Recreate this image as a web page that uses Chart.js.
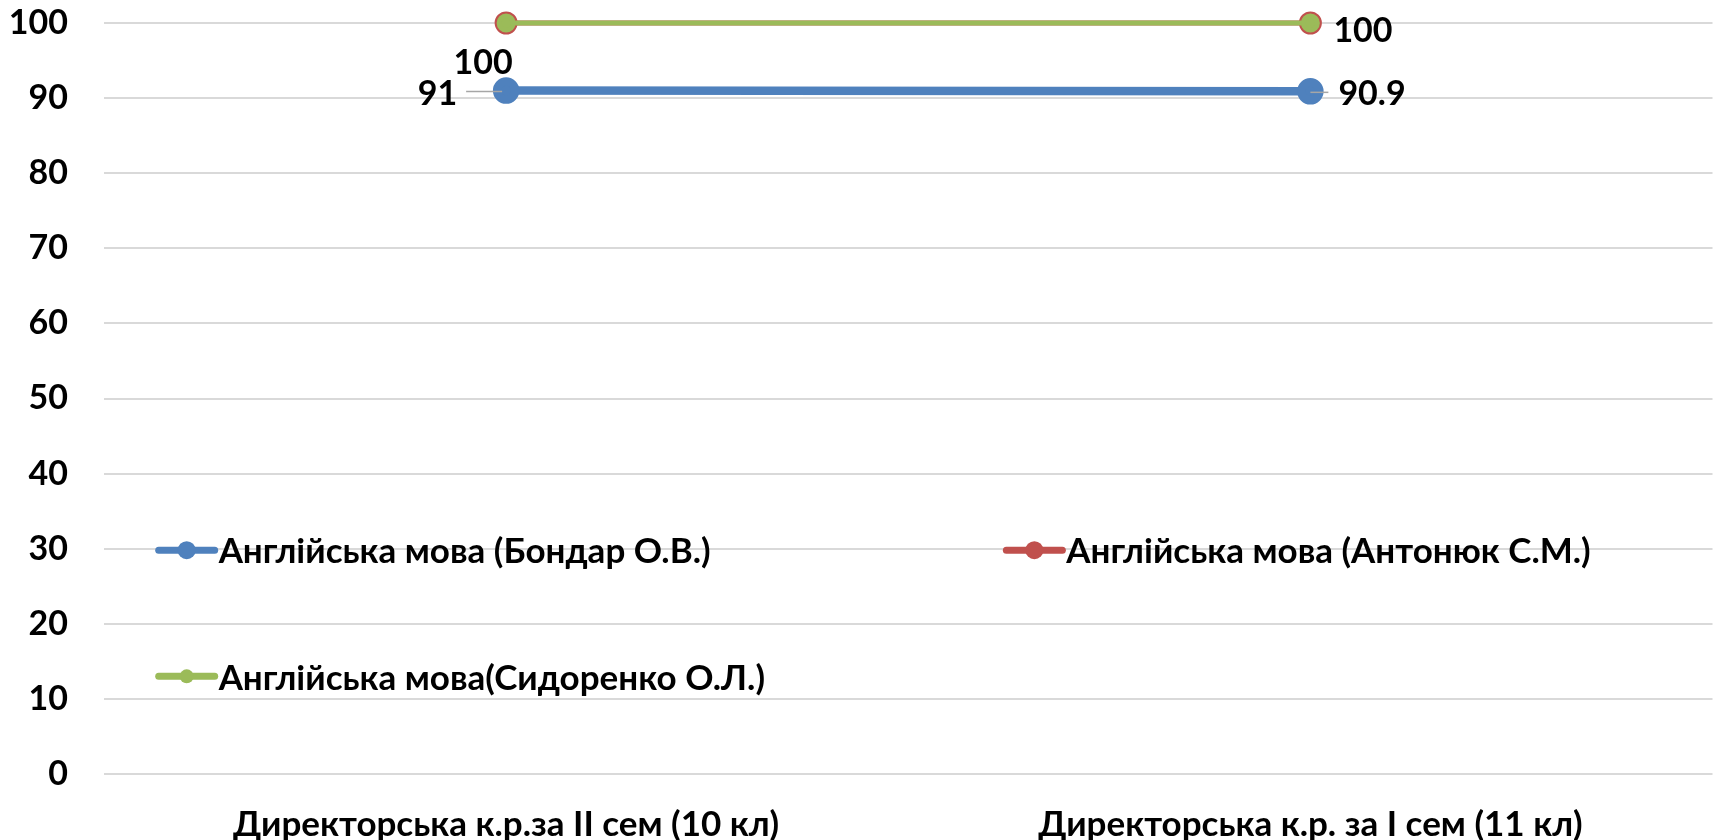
<!DOCTYPE html>
<html>
<head>
<meta charset="utf-8">
<script src="https://cdn.jsdelivr.net/npm/chart.js@4"></script>
<style>
  html, body { margin: 0; padding: 0; background: #fff; overflow: hidden; }
  #wrap { width: 1715px; height: 840px; overflow: hidden; }
  canvas { display: block; }
</style>
</head>
<body>
<div id="wrap"><canvas id="myChart" width="1730" height="840"></canvas></div>
<script>
// categories and values
const categories = ['Директорська к.р.за ІІ сем (10 кл)', 'Директорська к.р. за І сем (11 кл)']
const bondar = [91, 90.9]
const antonyuk = [100, 100]
const sydorenko = [100, 100]
const series_names = ['Англійська мова (Бондар О.В.)', 'Англійська мова (Антонюк С.М.)', 'Англійська мова(Сидоренко О.Л.)']
const y_min = 0
const y_max = 100
const y_step = 10

const font_family = 'Lato, "Open Sans", "Noto Sans", sans-serif'
const blue = '#4f81bd'
const red = '#c0504d'
const green = '#9bbb59'

// where the value labels sit relative to their point (px)
const label_places = {
  0: [{ dx: -49, dy: 3, align: 'right', lead: [-40, -4] }, { dx: 28, dy: 3, align: 'left', lead: [0, 18] }],
  1: [{ dx: -23, dy: 40, align: 'center' }, { dx: 23, dy: 8, align: 'left' }]
}

const valueLabels = {
  id: 'valueLabels',
  afterDatasetsDraw(chart) {
    const ctx = chart.ctx
    ctx.save()
    ctx.font = 'bold 34px ' + font_family
    ctx.textBaseline = 'middle'
    for (const key in label_places) {
      const ds = chart.data.datasets[key]
      const meta = chart.getDatasetMeta(key)
      label_places[key].forEach((p, i) => {
        const pt = meta.data[i]
        if (!pt) return
        if (p.lead) {
          ctx.strokeStyle = '#a6a6a6'
          ctx.lineWidth = 1.5
          ctx.beginPath()
          ctx.moveTo(pt.x + p.lead[0], pt.y + 1)
          ctx.lineTo(pt.x + p.lead[1], pt.y + 1)
          ctx.stroke()
        }
        ctx.fillStyle = '#000'
        ctx.textAlign = p.align
        ctx.fillText(String(ds.data[i]), pt.x + p.dx, pt.y + p.dy)
      })
    }
    ctx.restore()
  }
}

// legend drawn inside the plot area, like the original
const legend_places = [
  { fx: 0.034, fy: 0.702 },
  { fx: 0.561, fy: 0.702 },
  { fx: 0.034, fy: 0.870 }
]

const innerLegend = {
  id: 'innerLegend',
  afterDraw(chart) {
    const ctx = chart.ctx
    const area = chart.chartArea
    ctx.save()
    ctx.font = 'bold 35px ' + font_family
    ctx.textBaseline = 'middle'
    ctx.textAlign = 'left'
    chart.data.datasets.forEach((ds, i) => {
      const pl = legend_places[i]
      const x = area.left + pl.fx * (area.right - area.left)
      const y = area.top + pl.fy * (area.bottom - area.top)
      ctx.strokeStyle = ds.borderColor
      ctx.lineWidth = 7
      ctx.lineCap = 'round'
      ctx.beginPath()
      ctx.moveTo(x, y)
      ctx.lineTo(x + 56, y)
      ctx.stroke()
      ctx.fillStyle = ds.pointBackgroundColor
      ctx.beginPath()
      ctx.arc(x + 28, y, ds.pointRadius, 0, Math.PI * 2)
      ctx.fill()
      ctx.fillStyle = '#000'
      ctx.fillText(ds.label, x + 60, y + 2)
    })
    ctx.restore()
  }
}

const noPadding = (scale) => {
  scale.paddingLeft = 0
  scale.paddingRight = 0
  scale.paddingTop = 0
  scale.paddingBottom = 0
}

const data = {
  labels: categories,
  datasets: [
    {
      label: series_names[0],
      data: bondar,
      borderColor: blue,
      backgroundColor: blue,
      pointBackgroundColor: blue,
      pointBorderColor: blue,
      borderWidth: 8.5,
      pointRadius: 9,
      clip: false,
      order: 0
    },
    {
      label: series_names[1],
      data: antonyuk,
      borderColor: red,
      backgroundColor: red,
      pointBackgroundColor: red,
      pointBorderColor: red,
      borderWidth: 5,
      pointRadius: 9,
      clip: false,
      order: 2
    },
    {
      label: series_names[2],
      data: sydorenko,
      borderColor: green,
      backgroundColor: green,
      pointBackgroundColor: green,
      pointBorderColor: green,
      borderWidth: 5,
      pointRadius: 7,
      clip: false,
      order: 1
    }
  ]
}

const config = {
  type: 'line',
  data: data,
  options: {
    responsive: false,
    animation: false,
    events: [],
    layout: { padding: { top: 23, right: 3, bottom: 0, left: 0 } },
    plugins: {
      legend: { display: false },
      tooltip: { enabled: false }
    },
    scales: {
      x: {
        offset: true,
        grid: { display: false, drawTicks: false },
        border: { display: false },
        ticks: {
          color: '#000',
          padding: 30,
          maxRotation: 0,
          font: { family: font_family, size: 35, weight: 'bold' }
        },
        afterFit(scale) {
          scale.height = 66
          noPadding(scale)
        }
      },
      y: {
        min: y_min,
        max: y_max,
        grid: { color: '#d9d9d9', lineWidth: 2, drawTicks: true, tickLength: 33, tickColor: 'rgba(0,0,0,0)' },
        border: { display: false },
        ticks: {
          stepSize: y_step,
          color: '#000',
          padding: 3,
          font: { family: font_family, size: 34, weight: 'bold', lineHeight: 1.2 }
        },
        afterFit(scale) {
          scale.width = 104
          noPadding(scale)
        }
      }
    }
  },
  plugins: [valueLabels, innerLegend]
}

const myChart = new Chart(document.getElementById('myChart'), config)
</script>
</body>
</html>
